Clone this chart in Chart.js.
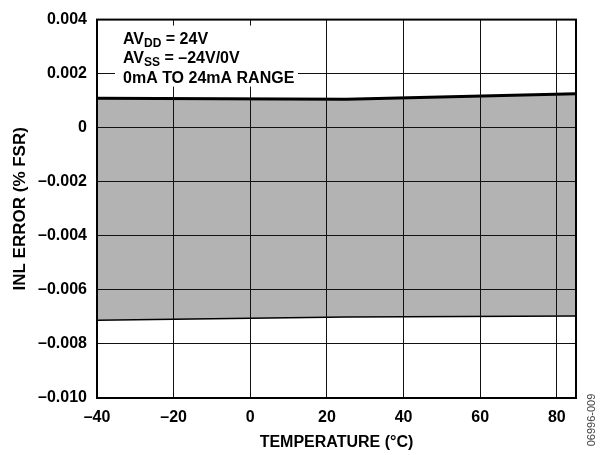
<!DOCTYPE html>
<html><head><meta charset="utf-8">
<script src="https://cdn.jsdelivr.net/npm/chart.js@4"></script>
<style>html,body{margin:0;padding:0;background:#fff}#wrap{width:605px;height:455px;position:relative}</style>
</head><body><div id="wrap"><canvas id="c" width="605" height="455"></canvas></div>
<script>
const temperatures = [-40, 25, 85];
const inlUpper = [0.00109, 0.00105, 0.00126];
const inlLower = [-0.00710, -0.00698, -0.00694];
const xTickValues = [-40, -20, 0, 20, 40, 60, 80];
const xTickLabels = ['–40', '–20', '0', '20', '40', '60', '80'];
const yTickValues = [0.004, 0.002, 0, -0.002, -0.004, -0.006, -0.008, -0.010];
const yTickLabels = ['0.004', '0.002', '0', '–0.002', '–0.004', '–0.006', '–0.008', '–0.010'];
const noteLines = [
  [['AV', 0], ['DD', 1], [' = 24V', 0]],
  [['AV', 0], ['SS', 1], [' = –24V/0V', 0]],
  [['0mA TO 24mA RANGE', 0]]
];
const figureCode = '06996-009';
const xTitle = 'TEMPERATURE (°C)';
const yTitle = 'INL ERROR (% FSR)';

const FAM = '"Liberation Sans", Arial, Helvetica, sans-serif';
Chart.defaults.font.family = FAM;
Chart.defaults.color = '#000';

const overlay = {
  id: 'overlay',
  afterDraw(chart) {
    const { ctx, chartArea: a } = chart;
    ctx.save();
    ctx.strokeStyle = '#000';
    ctx.lineWidth = 2;
    ctx.strokeRect(a.left, a.top, a.right - a.left, a.bottom - a.top);
    // note box
    ctx.fillStyle = '#fff';
    ctx.fillRect(a.left + 18, a.top + 6, 183, 61);
    ctx.fillStyle = '#000';
    ctx.textBaseline = 'alphabetic';
    ctx.textAlign = 'left';
    const baselines = [a.top + 24, a.top + 43, a.top + 63];
    noteLines.forEach((parts, i) => {
      let x = a.left + 26;
      parts.forEach(([t, sub]) => {
        ctx.font = sub ? 'bold 12px ' + FAM : 'bold 16px ' + FAM;
        ctx.fillText(t, x, baselines[i] + (sub ? 3 : 0));
        x += ctx.measureText(t).width;
      });
    });
    // figure code
    ctx.translate(592, 420);
    ctx.rotate(-Math.PI / 2);
    ctx.font = '11px ' + FAM;
    ctx.fillStyle = '#444';
    ctx.textAlign = 'center';
    ctx.textBaseline = 'middle';
    ctx.fillText(figureCode, 0, 0);
    ctx.restore();
  }
};

new Chart(document.getElementById('c'), {
  type: 'line',
  data: {
    datasets: [
      {
        data: temperatures.map((t, i) => ({ x: t, y: inlUpper[i] })),
        borderColor: '#000', borderWidth: 3, pointRadius: 0, tension: 0,
        fill: '+1', backgroundColor: '#b3b3b3'
      },
      {
        data: temperatures.map((t, i) => ({ x: t, y: inlLower[i] })),
        borderColor: '#000', borderWidth: 3, pointRadius: 0, tension: 0,
        fill: false
      }
    ]
  },
  options: {
    responsive: false, animation: false, devicePixelRatio: 1,
    layout: { padding: { left: 0, right: 29, top: 14, bottom: 0 } },
    plugins: { legend: { display: false }, tooltip: { enabled: false } },
    scales: {
      x: {
        type: 'linear', min: -40, max: 85,
        afterBuildTicks: s => { s.ticks = xTickValues.map(v => ({ value: v })); },
        afterFit: s => { s.height = 57; },
        ticks: {
          padding: 10, font: { size: 16, weight: 'bold' },
          callback: (v) => xTickLabels[xTickValues.indexOf(v)] ?? ''
        },
        grid: { color: '#111', lineWidth: 1, drawTicks: false, z: 1 },
        border: { display: false },
        title: { display: true, text: xTitle, font: { size: 16, weight: 'bold' }, padding: { top: 0, bottom: 3 } }
      },
      y: {
        type: 'linear', min: -0.010, max: 0.004,
        afterBuildTicks: s => { s.ticks = yTickValues.map(v => ({ value: v })); },
        afterFit: s => { s.width = 97; },
        ticks: {
          padding: 10, font: { size: 16, weight: 'bold' },
          callback: (v) => {
            const i = yTickValues.findIndex(t => Math.abs(t - v) < 1e-9);
            return i >= 0 ? yTickLabels[i] : '';
          }
        },
        grid: { color: '#111', lineWidth: 1, drawTicks: false, z: 1 },
        border: { display: false },
        title: { display: true, text: yTitle, font: { size: 17, weight: 'bold' }, padding: { top: 10, bottom: 0 } }
      }
    }
  },
  plugins: [overlay]
});
</script>
</body></html>
